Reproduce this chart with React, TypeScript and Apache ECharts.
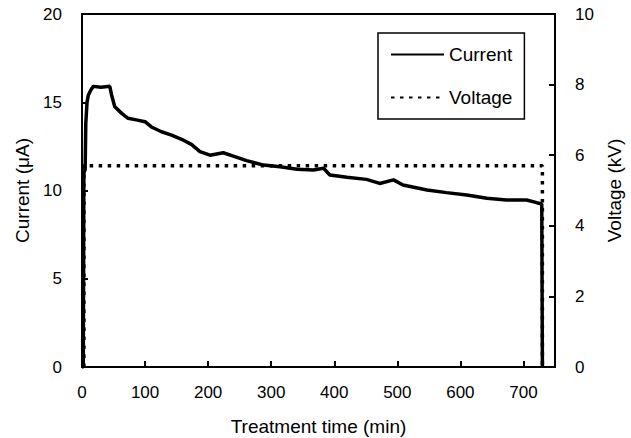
import React, { useEffect, useRef } from "react";
import * as echarts from "echarts";

const xTicks = [0, 100, 200, 300, 400, 500, 600, 700];
const currentTimes = [0, 2, 3, 5, 6, 8, 10, 14, 18, 30, 44, 47, 52, 63, 73, 86, 100, 110, 126, 142, 158, 174, 187, 203, 224, 240, 261, 288, 314, 341, 367, 383, 393, 420, 451, 472, 494, 509, 547, 578, 610, 642, 673, 705, 721, 729, 730];
const currentValues = [0, 0, 11, 11.2, 13.8, 15.0, 15.4, 15.7, 15.9, 15.85, 15.9, 15.4, 14.75, 14.37, 14.09, 14.0, 13.9, 13.6, 13.33, 13.14, 12.9, 12.6, 12.2, 12.0, 12.14, 11.95, 11.69, 11.44, 11.35, 11.2, 11.16, 11.26, 10.88, 10.75, 10.63, 10.4, 10.6, 10.31, 10.03, 9.88, 9.75, 9.56, 9.46, 9.46, 9.31, 9.24, 0];
const voltageTimes = [3, 3, 730, 730];
const voltageValues = [0, 5.7, 5.7, 0];

const FONT = "'Liberation Sans', Arial, sans-serif";

export default function App() {
  const ref = useRef<HTMLDivElement>(null);
  useEffect(() => {
    document.body.style.margin = "0";
    if (!ref.current) return;
    const chart = echarts.init(ref.current, undefined, { renderer: "svg" });
    const axisLine = { show: true, lineStyle: { color: "#000", width: 2 } };
    const axisTick = { show: true, inside: true, length: 6, lineStyle: { color: "#000", width: 2 } };
    const axisLabelBase = { color: "#000", fontSize: 17, fontFamily: FONT };
    const nameStyle = { color: "#000", fontSize: 19, fontFamily: FONT };
    chart.setOption({
      animation: false,
      backgroundColor: "#fff",
      grid: {
        left: 82,
        right: 76,
        top: 14,
        bottom: 71,
        show: true,
        borderColor: "#000",
        borderWidth: 2,
        containLabel: false,
        outerBoundsMode: "none",
      },
      legend: {
        left: 378,
        top: 33,
        orient: "vertical",
        padding: [12, 12, 12, 12],
        itemGap: 24,
        itemWidth: 53,
        itemHeight: 14,
        borderColor: "#000",
        borderWidth: 1.5,
        itemStyle: { opacity: 0 },
        textStyle: { color: "#000", fontSize: 19, fontFamily: FONT },
        data: ["Current", "Voltage"],
      },
      xAxis: {
        type: "value",
        min: 0,
        max: 750,
        interval: 100,
        name: "Treatment time (min)",
        nameLocation: "middle",
        nameGap: 50,
        nameTextStyle: nameStyle,
        axisLine,
        axisTick,
        splitLine: { show: false },
        axisLabel: {
          ...axisLabelBase,
          margin: 17,
          showMaxLabel: false,
          formatter: (v: number) => (xTicks.includes(v) ? String(v) : ""),
        },
      },
      yAxis: [
        {
          type: "value",
          min: 0,
          max: 20,
          interval: 5,
          position: "left",
          name: "Current (μA)",
          nameLocation: "middle",
          nameRotate: 90,
          nameGap: 45,
          nameTextStyle: nameStyle,
          axisLine,
          axisTick,
          splitLine: { show: false },
          axisLabel: { ...axisLabelBase, margin: 20 },
        },
        {
          type: "value",
          min: 0,
          max: 10,
          interval: 2,
          position: "right",
          name: "Voltage (kV)",
          nameLocation: "middle",
          nameRotate: 90,
          nameGap: 48,
          nameTextStyle: nameStyle,
          axisLine,
          axisTick,
          splitLine: { show: false },
          axisLabel: { ...axisLabelBase, margin: 20 },
        },
      ],
      series: [
        {
          name: "Current",
          type: "line",
          yAxisIndex: 0,
          symbol: "none",
          lineStyle: { color: "#000", width: 3.5 },
          itemStyle: { color: "#000" },
          data: currentTimes.map((t, i) => [t, currentValues[i]]),
        },
        {
          name: "Voltage",
          type: "line",
          yAxisIndex: 1,
          symbol: "none",
          lineStyle: { color: "#000", width: 3.5, type: [3.5, 5.5] },
          itemStyle: { color: "#000" },
          data: voltageTimes.map((t, i) => [t, voltageValues[i]]),
        },
      ],
    });
    return () => chart.dispose();
  }, []);
  return <div ref={ref} style={{ width: 631, height: 438 }} />;
}
